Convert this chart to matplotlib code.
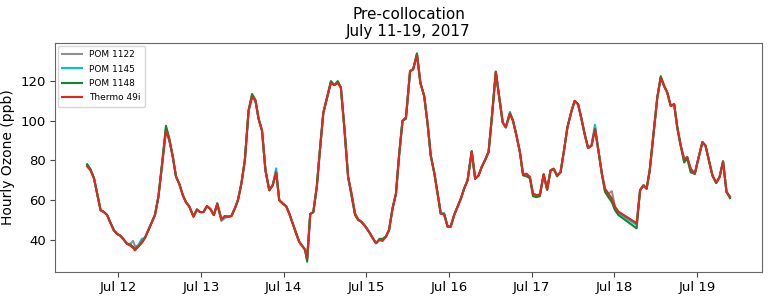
import matplotlib
matplotlib.use("Agg")
import matplotlib.pyplot as plt
import matplotlib.dates as mdates
import pandas as pd

# hours since 2017-07-11 00:00
hours = [
    14.9, 15.9, 16.9, 17.8, 18.8, 19.8, 20.7, 21.7, 22.7, 23.6, 24.6, 25.6, 26.5, 27.5, 28.2,
    28.8, 29.8, 30.8, 31.7, 32.7, 33.7, 34.6, 35.6, 36.6, 37.8, 38.8, 39.8, 40.7, 41.7, 42.7,
    43.6, 44.6, 45.8, 46.8, 47.7, 48.7, 49.7, 50.7, 51.7, 52.7, 53.9, 54.9, 55.8, 56.8, 57.8,
    58.7, 59.7, 60.7, 61.8, 62.8, 63.8, 64.7, 65.7, 66.7, 67.8, 68.8, 69.8,
    70.7, 71.7, 72.7, 73.6, 74.6, 75.6, 76.5, 77.5, 78.2, 78.8, 79.7, 80.6, 81.6, 82.5,
    83.5, 84.6, 85.7, 86.7, 87.7, 88.6, 89.6, 90.7, 91.7, 92.7, 93.6, 94.6, 95.6, 96.8,
    97.8, 98.8, 99.8, 100.7, 101.7, 102.6, 103.6, 104.6, 105.5, 106.5, 107.5, 108.7, 109.6,
    110.7, 111.7, 112.8, 113.8, 114.7, 115.7, 116.7, 117.6, 118.6, 119.6, 120.5, 121.5, 122.5,
    123.5, 124.4, 125.4, 126.6, 127.6, 128.6, 129.5, 130.5, 131.5, 132.4, 133.6, 134.6, 135.6,
    136.5, 137.7, 138.6, 139.6, 140.6, 141.5, 142.5, 143.5, 144.4, 145.4, 146.4, 147.5, 148.5,
    149.5, 150.4, 151.4, 152.4,
    153.4, 154.4, 155.6, 156.5, 157.5, 158.5, 159.4, 160.4, 161.4, 162.4, 163.4, 164.4, 165.3,
    166.3, 167.3, 168.2, 169.2, 174.5, 175.5, 176.5, 177.4, 178.3,
    179.5, 180.5, 181.5, 182.5, 183.4, 184.4, 185.4, 186.3, 187.3, 188.3, 189.2, 190.2, 191.4,
    192.4, 193.6, 194.5, 195.5, 196.5, 197.6, 198.6, 199.6, 200.6, 201.6,
]

thermo_49i = [
    77, 75, 71, 63.5, 55, 54, 52.5, 48.5, 44.7, 43, 42, 40, 38, 37, 36,
    34.7, 36.7, 38.7, 41, 45, 49, 52.5, 61.7, 76.7, 95, 90, 81.7, 72, 68, 62.5,
    59, 56.7, 51.7, 55.3, 54, 54, 57, 55.5, 52.5, 58, 50.3, 52, 51.7, 52, 55.8,
    60, 68.3, 80, 105, 112, 110, 101, 95, 75, 65, 67.5, 74,
    60, 58.3, 57, 53.3, 48.3, 43.3, 39, 36.7, 35, 30.8, 53, 54, 66.7, 85,
    104, 111.7, 119, 118, 119, 116.7, 96.7, 71.7, 63.3, 53.3, 50.3, 49, 47, 44,
    41, 38.3, 40, 39.5, 41.7, 45, 55.8, 63.3, 82.5, 100, 101.7, 125, 126,
    133, 119, 112.5, 98.3, 82.5, 74, 63.3, 53.3, 52.8, 46.7, 46.7, 52.5, 56.7,
    61, 65.8, 70, 84.6, 70.8, 72.5, 76.7, 80.3, 84.2, 100.8, 124.7, 111.7, 99.2,
    96.7, 103.7, 100, 92.5, 84.2, 73, 73.3, 71.7, 63.3, 62.5, 62.8, 73, 65.3,
    75, 75.8, 72.5, 74,
    85, 96.7, 105, 110, 108.3, 100.8, 93.3, 86.3, 87.5, 95.8, 85, 73.3, 65.8,
    63.3, 60.8, 56.7, 54.2, 48.3, 65, 67.5, 65.8, 75,
    95, 111.7, 121.7, 117.5, 114.2, 107.5, 108.3, 96.7, 87.5, 80.8, 81.7, 75.8, 73.3,
    80.8, 89.2, 87.5, 80, 72.5, 68.7, 71.7, 79.5, 64.2, 61.7,
]

pom_1122 = [
    77.5, 75, 71, 63.5, 55, 54, 52.5, 48.5, 44.7, 43, 42, 40, 38, 38, 39.5,
    37, 36.7, 38.7, 41, 45, 49, 52.5, 61.7, 76.7, 95.5, 90, 81.7, 72, 68, 62.5,
    59, 56.7, 51.7, 55.3, 54, 54, 57, 55.5, 52.5, 58, 49.5, 51, 51.7, 52, 55.8,
    60, 68.3, 80, 105, 112.5, 110, 101, 95, 75, 65, 67.5, 74.5,
    60, 58.3, 57, 53.3, 48.3, 43.3, 39, 36.7, 35, 30.5, 53, 54, 66.7, 85,
    104, 111.7, 119.5, 118, 119.5, 116.7, 96.7, 71.7, 63.3, 53.3, 50.3, 49, 47, 44,
    41, 38.3, 40, 39.5, 41.7, 45, 55.8, 63.3, 82.5, 100, 101.7, 125, 126,
    133.5, 119, 112.5, 98.3, 82.5, 74, 63.3, 53.3, 52.8, 46.7, 46.7, 52.5, 56.7,
    61, 65.8, 70, 84.6, 70.8, 72.5, 76.7, 80.3, 84.2, 100.8, 124.7, 111.7, 99.2,
    96.7, 103.7, 100, 92.5, 84.2, 73, 73.3, 71.7, 63.3, 62.5, 62.8, 73, 65.3,
    75, 75.8, 72.5, 74,
    85, 96.7, 105, 110, 108.3, 100.8, 93.3, 86.3, 87.5, 96.5, 85, 73.3, 65.8,
    63.3, 64.5, 56.7, 54.2, 48.3, 65, 67.5, 65.8, 75,
    95, 111.7, 121.7, 117.5, 114.2, 107.5, 108.3, 96.7, 87.5, 80.8, 81.7, 75.8, 73.3,
    80.8, 89.2, 87.5, 80, 72.5, 68.7, 71.7, 79.5, 64.2, 61.7,
]

pom_1145 = [
    78, 75.5, 71, 63.5, 55, 54, 52.5, 48.5, 44.7, 43, 42, 40, 38, 37.5, 36.5,
    35.5, 37.5, 40.5, 41, 45, 49, 52.5, 61.7, 76.7, 96.5, 90, 81.7, 72, 68, 62.5,
    59, 56.7, 51.7, 55.3, 54, 54, 57, 55.5, 52.5, 58, 50.3, 51.5, 51.5, 52, 55.8,
    60, 68.3, 80, 105, 112.5, 110, 101, 95, 75, 65, 67.5, 76,
    60, 58.3, 57, 53.3, 48.3, 43.3, 39, 36.7, 35, 30, 53, 54, 66.7, 85,
    104, 111.7, 119.5, 118, 119.5, 116.7, 96.7, 71.7, 62.5, 53.3, 50.3, 49, 47, 44,
    41, 38.3, 40, 40, 41.7, 45, 55.8, 63.3, 82.5, 100, 101.7, 125, 126,
    133.5, 119, 112.5, 98.3, 82.5, 74, 63.3, 53.3, 53.5, 46.7, 46.7, 52.5, 56.7,
    61, 65.8, 70, 84.6, 70.8, 72.5, 76.7, 80.3, 84.2, 100.8, 124.7, 111.7, 99.2,
    96.7, 104.5, 100, 92.5, 84.2, 73, 73, 71.5, 63, 62.5, 62.8, 73, 65.3,
    75, 75.8, 72.5, 74,
    85, 96.7, 105, 110, 108.3, 100.8, 93.3, 86.3, 87.5, 98, 85, 73.3, 65,
    63, 60, 56, 53.5, 47.5, 65, 67.5, 65.8, 75,
    95, 111.7, 122, 117.5, 114.5, 107.5, 108.5, 96.7, 87.5, 80, 81.7, 75, 73.3,
    80.8, 89.2, 87.5, 80, 72.5, 68.7, 71.7, 79.5, 64.2, 61.7,
]

pom_1148 = [
    78, 75.5, 71, 63.5, 55, 54, 52.5, 48.5, 44.7, 43, 42, 40, 38, 37.5, 36.5,
    35.5, 36.7, 38.7, 41, 45, 49, 52.5, 61.7, 77.5, 97.5, 91, 81.7, 72, 68, 62.5,
    59, 56.7, 51.7, 55.3, 54, 54, 57, 55.5, 52.5, 58.5, 50.3, 52, 51.7, 52, 55.8,
    60, 68.3, 80, 105.5, 113.5, 110.5, 101, 95, 75, 65, 67.5, 74,
    60, 58.3, 57, 53.3, 48.3, 43.3, 39, 36.7, 35, 29, 53, 54, 66.7, 85,
    104, 111.7, 120, 118, 120, 116.7, 96.7, 71.7, 62, 52.5, 50, 49, 47, 44,
    41, 38.3, 40.5, 40.5, 41.7, 45, 55.8, 63.3, 82.5, 100, 101, 125, 126,
    134, 119, 112.5, 98.3, 82.5, 74, 63.3, 53.3, 52.8, 46.7, 46.7, 52.5, 56.7,
    61, 65.8, 70, 84.6, 70.8, 72.5, 76.7, 80.3, 84.5, 100.8, 124.7, 111.7, 99.2,
    96.7, 103.7, 100, 92.5, 84.2, 72.5, 72, 71, 62, 61.5, 62, 73, 65.3,
    75, 75.8, 72, 74,
    85, 96.7, 105, 110, 108.3, 100.8, 93.3, 86.3, 87.5, 95.8, 85, 73.3, 64.2,
    61.5, 59, 55, 52.5, 45.8, 65, 67.5, 65.8, 75,
    95, 111.7, 122.5, 117.5, 114.2, 107.5, 108.3, 96.7, 87.5, 79, 81, 74, 73.3,
    80.8, 89.2, 87.5, 80, 72.5, 68.7, 71.7, 79.5, 64.2, 61,
]

series_names = ["POM 1122", "POM 1145", "POM 1148", "Thermo 49i"]
series_colors = ["#909090", "#00c4cc", "#0a8a2a", "#e3261e"]
title_text = "Pre-collocation\nJuly 11-19, 2017"
ylabel_text = "Hourly Ozone (ppb)"

plt.rcParams["font.family"] = ["DejaVu Sans"]

times = pd.Timestamp("2017-07-11") + pd.to_timedelta(hours, unit="h")

fig = plt.figure(figsize=(7.69, 3.02), dpi=100)
ax = fig.add_axes([0.0715, 0.099, 0.9195, 0.759])

for name, vals, col in zip(series_names, [pom_1122, pom_1145, pom_1148, thermo_49i], series_colors):
    ax.plot(times, vals, color=col, lw=1.5, label=name)

ax.xaxis.set_major_locator(mdates.DayLocator(bymonthday=range(12, 20)))
ax.xaxis.set_major_formatter(mdates.DateFormatter("%b %d"))
ax.set_yticks([40, 60, 80, 100, 120])
ax.tick_params(axis="both", labelsize=9.5, length=3.5, color="#444444", pad=3)
for s in ax.spines.values():
    s.set_color("#666666")

ax.set_ylabel(ylabel_text, fontsize=10)
ax.yaxis.set_label_coords(-0.056, 0.5)
ax.set_title(title_text, fontsize=11, linespacing=1.2, pad=5)

leg = ax.legend(loc="upper left", fontsize=6.5, frameon=True, borderaxespad=0.3,
                labelspacing=0.6, handlelength=2.2, borderpad=0.5)
leg.get_frame().set_edgecolor("#cccccc")

fig.savefig("out.png", dpi=100)
